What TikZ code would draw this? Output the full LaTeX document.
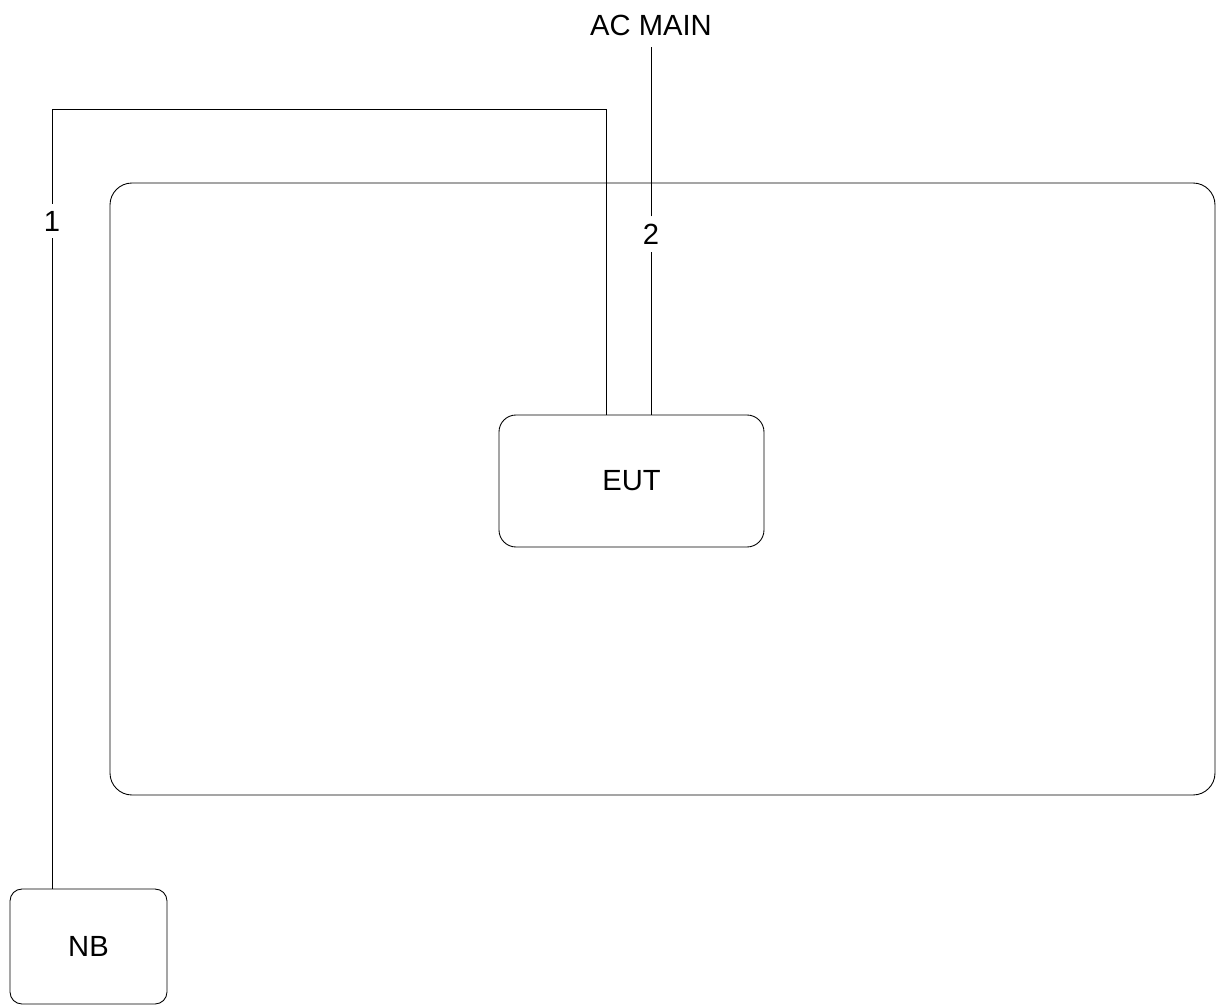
\documentclass[tikz,border=0pt]{standalone}
\usepackage{fontspec}
\setmainfont{Liberation Sans}
\usetikzlibrary{positioning}

\begin{document}
\begin{tikzpicture}[
    lbl/.style={font=\fontsize{16.6}{20}\selectfont, text=black, inner sep=4pt},
    unit/.style={draw=black, line width=0.5pt, rounded corners=#1,
                 font=\fontsize{16.6}{20}\selectfont, inner sep=0pt},
    wire/.style={line width=0.5pt, black},
]
\useasboundingbox (0,0) rectangle (24.36,20.14);

% --- Table outline ---
\node[unit=0.44cm, minimum width=22.1cm, minimum height=12.24cm] (table) at (13.25,10.36) {};

% --- Units ---
\node[unit=0.34cm, minimum width=5.3cm, minimum height=2.64cm] (eut) at (12.63,10.52) {EUT};
\node[unit=0.24cm, minimum width=3.14cm, minimum height=2.3cm] (nb) at (1.77,1.21) {NB};

% --- Supply ---
\node[lbl, anchor=south, inner sep=6.3pt] (mains) at (13.02,19.2) {AC MAIN};

% --- Cable labels ---
\node[lbl] (lab1) at (1.04,15.72) {1};
\node[lbl] (lab2) at (13.02,15.46) {2};

% --- Cables ---
\coordinate (bend1) at (1.04,17.96);
\coordinate (bend2) at (12.12,17.96);
\draw[wire] (nb.north -| bend1) -- (lab1) -- (bend1) -- (bend2) -- (bend2 |- eut.north);
\draw[wire] (eut.north -| mains.south) -- (lab2) -- (mains.south);

\end{tikzpicture}
\end{document}
